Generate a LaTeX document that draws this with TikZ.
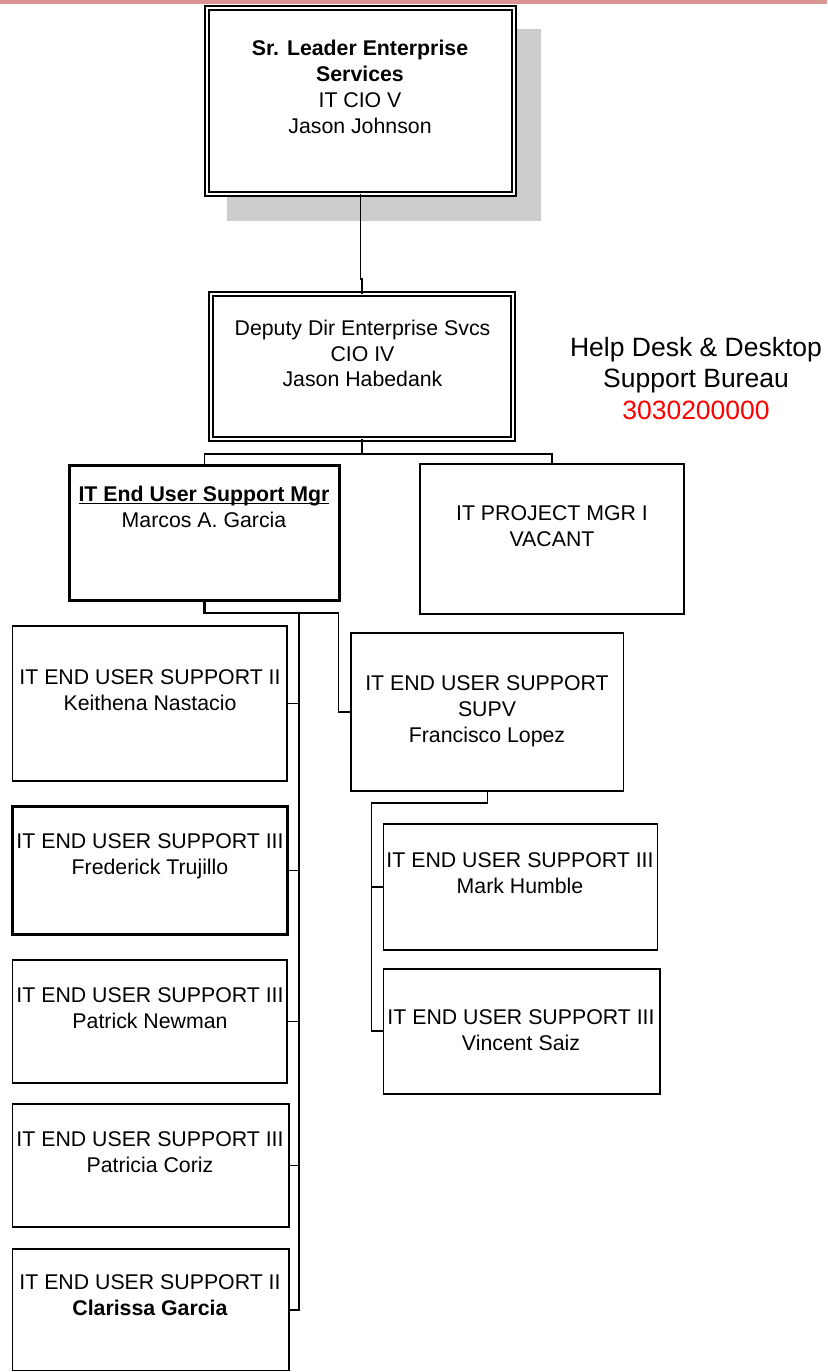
\documentclass[tikz,border=0pt]{standalone}
\usepackage{fontspec}
\setmainfont{Liberation Sans}
\usetikzlibrary{calc}
\definecolor{pinkbar}{RGB}{217,149,148}
\definecolor{shadowgray}{RGB}{204,204,204}
\newcommand{\myul}[1]{\setbox0\hbox{#1}\rlap{\rule[-3pt]{\wd0}{1.5pt}}\box0}
\begin{document}
\begin{tikzpicture}[x=1pt,y=-1pt,
  box/.style={draw, fill=white, line width=1.9pt, rectangle, inner sep=0pt, outer sep=0pt},
  thickbox/.style={box, line width=3pt},
  dbox/.style={draw, fill=white, double=white, double distance=2.6pt, line width=1.7pt, rectangle, inner sep=0pt, outer sep=0pt},
  txt/.style={align=center, font=\fontsize{21.3}{25.8}\selectfont, inner sep=0pt},
  conn/.style={line width=1.5pt},
  spine/.style={line width=2.5pt}]
\useasboundingbox (0,0) rectangle (827,1372);
\fill[white] (0,0) rectangle (827,1372);
\fill[pinkbar] (0,0) rectangle (827,4.3);
\fill[shadowgray] (227,29) rectangle (541,221);

% boxes
\node[dbox, minimum width=307pt, minimum height=186pt] (top) at (360.5,101) {};
\node[dbox, minimum width=302pt, minimum height=145pt] (dep) at (362,366.5) {};
\node[thickbox, minimum width=270.5pt, minimum height=135pt] (mgr) at (204.25,533) {};
\node[box, minimum width=263.7pt, minimum height=149.4pt] (proj) at (552.15,539) {};
\node[box, minimum width=274.8pt, minimum height=155pt] (k1) at (149.9,703.5) {};
\node[thickbox, minimum width=275.2pt, minimum height=128.7pt] (k2) at (149.6,870.35) {};
\node[box, minimum width=274.8pt, minimum height=123pt] (k3) at (149.9,1021.5) {};
\node[box, minimum width=276.5pt, minimum height=123pt] (k4) at (150.75,1165.5) {};
\node[box, minimum width=276.5pt, minimum height=121.5pt] (k5) at (150.75,1309.75) {};
\node[box, minimum width=272.3pt, minimum height=157.7pt] (supv) at (487.35,712.15) {};
\node[box, minimum width=274pt, minimum height=125.7pt] (mark) at (520.5,887.15) {};
\node[box, minimum width=276.3pt, minimum height=125pt] (vinc) at (521.65,1031.2) {};

% connectors
\draw[conn] (top.south) -- ++(0,85) -| (dep.north);
\draw[conn] (dep.south) -- ++(0,15) coordinate (bus);
\draw[conn] (mgr.north) |- (bus) -| (proj.north);
\draw[spine] (mgr.south) -- ++(0,12.5) coordinate (mj) -| ([xshift=10pt]k5.east) -- (k5.east);
\coordinate (sp) at ([xshift=10pt]k5.east);
\draw[conn] (mj) -| ([xshift=-12.7pt]supv.west) -- (supv.west);
\foreach \n in {k1,k2,k3,k4} \draw[conn] (\n.east) -- (\n.east -| sp);
\draw[conn] (supv.south) -- ++(0,12) -| ([xshift=-12pt]vinc.west) -- (vinc.west);
\draw[conn] (mark.west) -- ++(-12,0);

% texts
\node[txt] (ttop) at (360,87) {\textbf{Sr. Leader Enterprise}\\\textbf{Services}\\IT CIO V\\Jason Johnson};
\node[txt] (tdep) at (362.5,353.5) {Deputy Dir Enterprise Svcs\\CIO IV\\Jason Habedank};
\node[txt] (tmgr) at (204,506.5) {\myul{\textbf{IT End User Support Mgr}}\\Marcos A. Garcia};
\node[txt] (tproj) at (552,526) {IT PROJECT MGR I\\VACANT};
\node[txt] (tk1) at (150,690) {IT END USER SUPPORT II\\Keithena Nastacio};
\node[txt] (tsupv) at (487,711.5) {IT END USER SUPPORT\\SUPV\\Francisco Lopez};
\node[txt] (tk2) at (150,856.5) {IT END USER SUPPORT III\\Frederick Trujillo};
\node[txt] (tmark) at (520,873) {IT END USER SUPPORT III\\Mark Humble};
\node[txt] (tk3) at (150,1008) {IT END USER SUPPORT III\\Patrick Newman};
\node[txt] (tvinc) at (521,1030) {IT END USER SUPPORT III\\Vincent Saiz};
\node[txt] (tk4) at (150,1152) {IT END USER SUPPORT III\\Patricia Coriz};
\node[txt] (tk5) at (150,1295.5) {IT END USER SUPPORT II\\\textbf{Clarissa Garcia}};
\node[align=center, font=\fontsize{26.5}{31.5}\selectfont, inner sep=0pt] (hd) at (696,378.5) {Help Desk \& Desktop\\Support Bureau\\\textcolor{red}{3030200000}};
\end{tikzpicture}
\end{document}
